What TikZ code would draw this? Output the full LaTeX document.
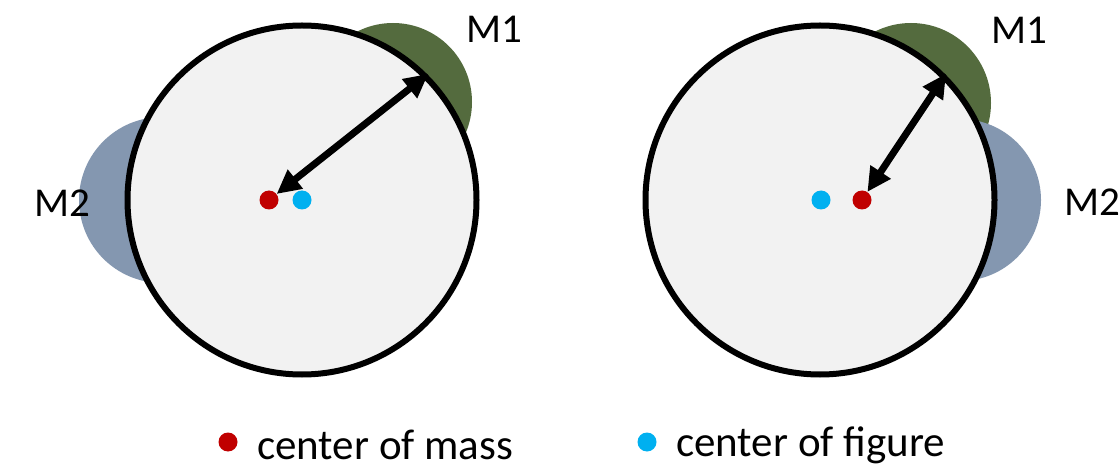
\documentclass[tikz,border=0pt]{standalone}
\usepackage{fontspec}
\setmainfont{Carlito}
\usepackage{tikz}
\usetikzlibrary{arrows.meta,positioning}
\definecolor{bodyfill}{HTML}{F2F2F2}
\definecolor{massgreen}{HTML}{546B3E}
\definecolor{massblue}{HTML}{8497B0}
\definecolor{comred}{HTML}{C00000}
\definecolor{cofcyan}{HTML}{00B0F0}
\tikzset{
  body/.style={circle,draw=black,fill=bodyfill,line width=6pt,
               minimum size=349pt,inner sep=0pt},
  lobe/.style={circle,inner sep=0pt,draw=none},
  dot/.style={circle,inner sep=0pt,minimum size=19pt},
  comdot/.style={dot,fill=comred},
  cofdot/.style={dot,fill=cofcyan},
  lbl/.style={font=\fontsize{41}{48}\selectfont,inner sep=0pt},
  keylbl/.style={font=\fontsize{43}{50}\selectfont,inner sep=0pt,anchor=west},
  radarr/.style={{Triangle[length=24pt,width=23pt]}-{Triangle[length=24pt,width=23pt]},
                 line width=7pt,shorten <=-1pt}
}
\begin{document}
\begin{tikzpicture}[x=1pt,y=1pt]
  \path[use as bounding box] (0,0) rectangle (1119,469);
  % left: mass M2 on the far side
  \node[lobe,fill=massgreen,minimum size=158pt] (m1L) at (393,367) {};
  \node[lobe,fill=massblue,minimum size=166pt] (m2L) at (162,269) {};
  \node[body] (bodyL) at (302,269) {};
  \node[comdot] (comL) at (269,269) {};
  \node[cofdot] (cofL) at (302,269) {};
  \draw[radarr] (bodyL.45) -- (comL);
  \node[lbl] (labM1L) at (494,440) {M1};
  \node[lbl] (labM2L) at (62,266) {M2};

  % right: both masses on the same side
  \node[lobe,fill=massgreen,minimum size=160pt] (m1R) at (911,366) {};
  \node[lobe,fill=massblue,minimum size=162pt] (m2R) at (960,269) {};
  \node[body] (bodyR) at (820,269) {};
  \node[cofdot] (cofR) at (821,269) {};
  \node[comdot] (comR) at (862,269) {};
  \draw[radarr] (bodyR.45) -- (comR);
  \node[lbl] (labM1R) at (1019,439) {M1};
  \node[lbl] (labM2R) at (1092,267) {M2};

  % legend
  \node[comdot] (keyCom) at (228,27) {};
  \node[keylbl] (txtCom) at (257,24) {center of mass};
  \node[cofdot] (keyCof) at (647,27) {};
  \node[keylbl] (txtCof) at (676,24) {center of figure};
\end{tikzpicture}
\end{document}
